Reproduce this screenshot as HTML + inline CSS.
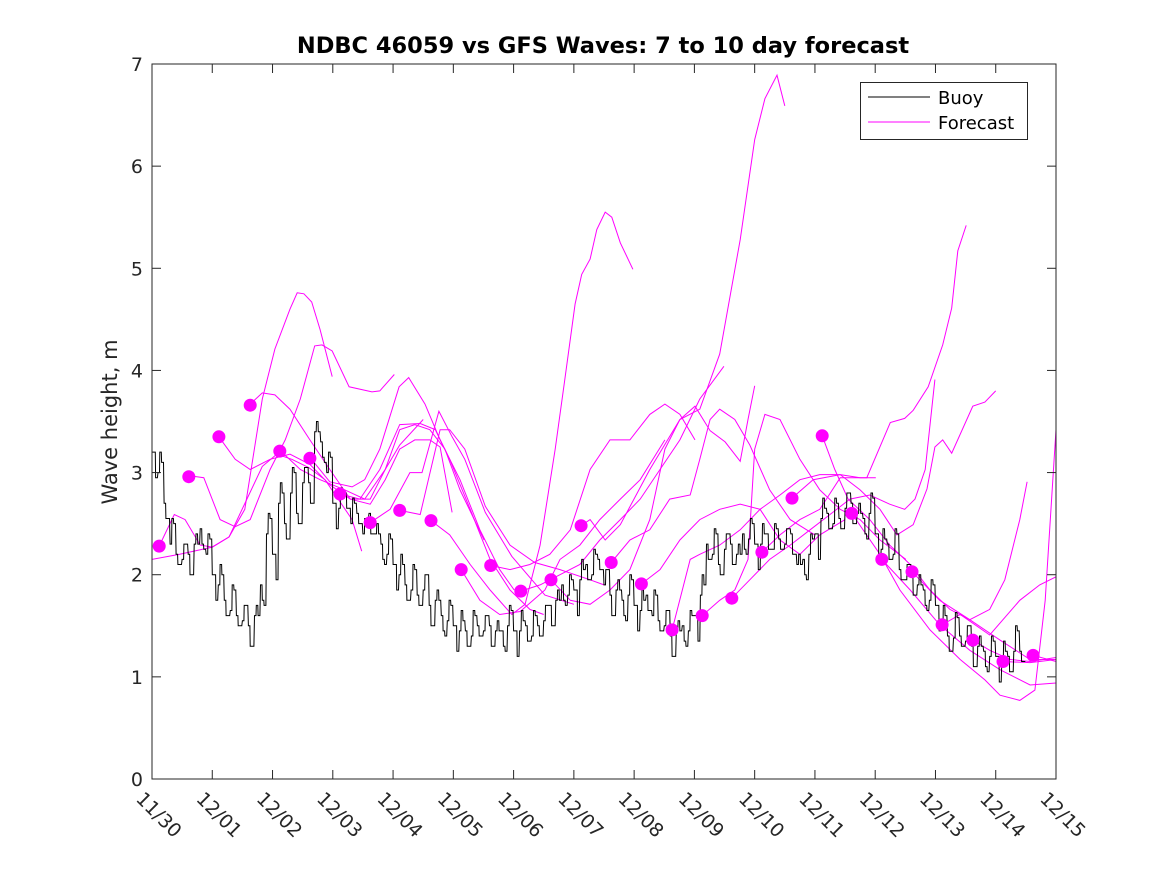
<!DOCTYPE html>
<html><head><meta charset="utf-8"><style>
html,body{margin:0;padding:0;background:#fff;}
svg{display:block;font-family:"DejaVu Sans","Liberation Sans",sans-serif;}
</style></head><body>
<svg id="chart" width="1167" height="875" viewBox="0 0 1167 875">
<defs><clipPath id="plotclip"><rect x="152" y="64" width="904" height="715"/></clipPath></defs>
<rect x="0" y="0" width="1167" height="875" fill="#fff"/>
<text x="603" y="53" text-anchor="middle" font-size="22.5" font-weight="bold" fill="#000">NDBC 46059 vs GFS Waves: 7 to 10 day forecast</text>
<text transform="translate(117,422) rotate(-90)" text-anchor="middle" font-size="21" fill="#262626">Wave height, m</text>
<g id="series" clip-path="url(#plotclip)"></g>
<g id="axes"></g>
<g>
<rect x="860.5" y="82.5" width="167" height="57" fill="#fff" stroke="#262626" stroke-width="1"/>
<line x1="868" y1="97" x2="930" y2="97" stroke="#000" stroke-width="1"/>
<text x="938" y="104" font-size="18" fill="#000">Buoy</text>
<line x1="868" y1="122" x2="930" y2="122" stroke="#ff00ff" stroke-width="1"/>
<text x="938" y="129" font-size="18" fill="#000">Forecast</text>
</g>
</svg>
<script>
const xTickLabels = ["11/30","12/01","12/02","12/03","12/04","12/05","12/06","12/07","12/08","12/09","12/10","12/11","12/12","12/13","12/14","12/15"];
const yTickValues = [0,1,2,3,4,5,6,7];
const buoyStartDay = 0;
const buoyStep = 0.1;
const buoyHeights = [3.2,3.0,2.7,2.3,2.2,2.15,2.2,2.3,2.45,2.2,2.0,1.9,1.75,1.65,1.6,1.55,1.5,1.6,1.9,2.4,2.2,2.7,2.5,2.8,2.6,2.9,2.9,3.4,3.3,3.0,2.7,2.65,2.8,2.5,2.6,2.4,2.6,2.4,2.3,2.2,2.1,2.0,1.9,1.85,1.8,1.85,1.7,1.75,1.6,1.55,1.5,1.45,1.45,1.4,1.5,1.45,1.5,1.45,1.45,1.5,1.45,1.45,1.5,1.4,1.5,1.55,1.7,1.75,1.9,1.8,1.85,1.95,2.1,2.0,2.15,1.9,1.8,1.85,1.75,1.8,1.7,1.65,1.8,1.6,1.55,1.5,1.4,1.45,1.5,1.45,1.6,1.8,2.3,2.2,2.1,2.25,2.3,2.2,2.4,2.35,2.3,2.3,2.4,2.25,2.35,2.3,2.4,2.1,2.15,2.2,2.4,2.55,2.6,2.5,2.55,2.65,2.7,2.6,2.55,2.6,2.4,2.25,2.3,2.2,2.05,1.95,2.0,1.9,1.85,1.75,1.7,1.5,1.4,1.38,1.4,1.35,1.3,1.3,1.25,1.2,1.2,1.15,1.2,1.25,1.25];
const buoyNoise = [0,0.2,-0.15,0.25,-0.1,0.15,-0.2,0.1,-0.15,0.2];
const forecastRuns = [
[[0,2.15],[0.46,2.20],[1.0,2.27],[1.28,2.37],[1.54,2.64],[1.83,3.72],[2.04,4.21],[2.29,4.60],[2.41,4.76],[2.52,4.75],[2.65,4.67],[2.79,4.40],[2.99,3.94]],
[[0.12,2.28],[0.37,2.59],[0.55,2.54],[0.80,2.29],[1.0,2.27],[1.28,2.37],[1.83,3.06],[2.07,3.18],[2.32,3.13],[2.60,3.05],[2.87,2.93],[3.32,2.54],[3.48,2.23]],
[[0.61,2.97],[0.86,2.95],[1.13,2.54],[1.38,2.47],[1.63,2.54],[1.96,3.03],[2.21,3.32],[2.46,3.72],[2.70,4.24],[2.82,4.25],[2.99,4.19],[3.27,3.84],[3.65,3.79],[3.78,3.80],[4.02,3.96]],
[[1.11,3.35],[1.38,3.13],[1.63,3.03],[1.96,3.13],[2.29,3.18],[2.62,3.08],[2.95,2.88],[3.29,2.74],[3.62,2.74],[3.87,3.03],[4.11,3.27],[4.50,3.52]],
[[1.63,3.67],[1.83,3.78],[2.04,3.76],[2.29,3.62],[2.62,3.32],[2.95,3.03],[3.29,2.74],[3.62,2.69],[3.87,2.93],[4.11,3.23],[4.36,3.32],[4.61,3.32],[4.78,3.25],[4.98,2.61]],
[[2.12,3.22],[2.46,3.03],[2.79,2.93],[3.20,2.83],[3.53,2.74],[3.87,3.03],[4.11,3.42],[4.36,3.47],[4.61,3.42],[4.86,3.23],[5.11,2.83],[5.51,2.34]],
[[2.62,3.15],[2.95,2.91],[3.32,2.86],[3.53,2.93],[3.78,3.23],[4.10,3.84],[4.26,3.93],[4.53,3.67],[4.78,3.32],[5.11,2.93],[5.44,2.44],[5.77,2.05],[6.01,1.85]],
[[3.12,2.79],[3.45,2.74],[3.78,3.03],[4.11,3.47],[4.45,3.48],[4.70,3.42],[4.94,3.13],[5.28,2.64],[5.61,2.15],[5.94,1.85],[6.27,1.66],[6.50,1.61]],
[[3.62,2.51],[3.95,2.64],[4.28,3.0],[4.48,3.0],[4.76,3.60],[4.98,3.35],[5.19,3.13],[5.53,2.61],[5.97,2.18],[6.52,1.80],[7.0,1.71]],
[[4.11,2.63],[4.45,2.59],[4.78,3.42],[4.94,3.42],[5.19,3.23],[5.53,2.67],[5.94,2.29],[6.35,2.12],[6.77,2.05],[7.27,1.95],[7.50,1.90]],
[[4.63,2.53],[4.94,2.39],[5.28,2.10],[5.61,1.85],[5.97,1.61],[6.19,1.71],[6.44,2.29],[6.69,3.23],[6.85,3.91],[7.02,4.65],[7.13,4.94],[7.27,5.09],[7.38,5.38],[7.52,5.55],[7.63,5.50],[7.77,5.25],[7.98,4.99]],
[[5.13,2.05],[5.44,1.75],[5.77,1.61],[6.11,1.64],[6.52,1.85],[6.77,2.15],[7.10,2.29],[7.43,2.54],[7.77,2.74],[8.10,2.93],[8.51,3.32]],
[[5.62,2.09],[5.94,2.05],[6.27,2.10],[6.60,2.20],[6.94,2.44],[7.27,3.03],[7.60,3.32],[7.93,3.32],[8.26,3.57],[8.51,3.67],[8.76,3.57],[9.01,3.32]],
[[6.12,1.84],[6.44,1.90],[6.77,2.0],[7.10,2.10],[7.43,2.34],[7.77,2.54],[8.10,2.74],[8.43,3.03],[8.76,3.32],[9.09,3.72],[9.49,4.04]],
[[6.62,1.95],[6.94,1.75],[7.27,1.71],[7.60,1.85],[7.93,2.05],[8.26,2.54],[8.51,3.23],[8.76,3.52],[9.01,3.65],[9.26,3.41],[9.51,3.30],[9.76,3.11],[9.89,3.52],[10.0,3.85]],
[[7.12,2.48],[7.27,2.54],[7.52,2.34],[7.77,2.49],[8.26,3.03],[8.76,3.52],[9.09,3.62],[9.42,4.16],[9.76,5.28],[10.0,6.26],[10.17,6.66],[10.37,6.89],[10.50,6.59]],
[[7.62,2.12],[7.93,2.34],[8.26,2.44],[8.59,2.74],[8.93,2.78],[9.09,3.13],[9.26,3.52],[9.42,3.62],[9.67,3.52],[9.92,3.27],[10.25,2.83],[10.59,2.54],[11.0,2.39]],
[[8.12,1.91],[8.43,2.05],[8.76,2.34],[9.09,2.54],[9.42,2.64],[9.76,2.69],[10.09,2.64],[10.42,2.34],[10.75,2.20],[11.08,2.39],[11.50,2.54]],
[[8.63,1.46],[8.93,2.15],[9.09,2.20],[9.42,2.29],[9.76,2.44],[10.09,2.64],[10.42,2.78],[10.75,2.93],[11.08,2.98],[11.42,2.98],[11.75,2.95],[12.01,2.95]],
[[9.13,1.60],[9.42,1.75],[9.67,1.85],[9.89,2.15],[10.0,3.23],[10.17,3.57],[10.42,3.52],[10.75,3.13],[11.08,2.83],[11.42,2.64],[11.75,2.54],[12.08,2.34],[12.51,2.15]],
[[9.62,1.77],[9.92,1.95],[10.25,2.15],[10.59,2.29],[10.92,2.44],[11.25,2.59],[11.58,2.74],[11.91,2.78],[12.24,2.69],[12.49,2.64],[12.66,2.74],[12.83,3.03],[12.99,3.91]],
[[10.12,2.22],[10.42,2.39],[10.75,2.54],[11.08,2.64],[11.42,2.95],[11.70,2.95],[11.86,2.95],[12.25,3.49],[12.49,3.53],[12.63,3.61],[12.88,3.84],[13.12,4.25],[13.27,4.61],[13.37,5.17],[13.51,5.42]],
[[10.62,2.75],[10.97,2.93],[11.42,2.98],[11.75,2.83],[12.08,2.64],[12.36,2.39],[12.63,2.49],[12.86,2.84],[12.99,3.25],[13.12,3.32],[13.27,3.19],[13.62,3.65],[13.82,3.69],[14.0,3.80]],
[[11.12,3.36],[11.33,3.03],[11.55,2.74],[11.91,2.54],[12.24,2.29],[12.58,2.10],[12.91,1.85],[13.24,1.66],[13.57,1.56],[13.90,1.66],[14.15,1.95],[14.40,2.54],[14.52,2.91]],
[[11.61,2.60],[12.08,2.20],[12.41,1.85],[12.91,1.46],[13.41,1.17],[13.82,0.97],[14.07,0.82],[14.40,0.77],[14.65,0.87],[14.82,1.75],[15.0,3.42]],
[[12.11,2.15],[12.58,1.85],[13.07,1.51],[13.57,1.26],[14.07,1.07],[14.57,0.92],[15.0,0.94]],
[[12.61,2.03],[13.07,1.75],[13.57,1.56],[14.07,1.36],[14.57,1.17],[15.0,1.17]],
[[13.11,1.51],[13.41,1.61],[13.90,1.41],[14.40,1.75],[14.73,1.90],[15.0,1.98]],
[[13.62,1.36],[13.90,1.26],[14.24,1.17],[14.57,1.15],[15.0,1.19]],
[[14.12,1.15],[14.57,1.14],[15.0,1.17]],
[[14.62,1.21],[15.0,1.15]]
];
const dotDays = [0.12,0.61,1.11,1.63,2.12,2.62,3.12,3.62,4.11,4.63,5.13,5.62,6.12,6.62,7.12,7.62,8.12,8.63,9.13,9.62,10.12,10.62,11.12,11.61,12.11,12.61,13.11,13.62,14.12,14.62];
const dotHeights = [2.28,2.96,3.35,3.66,3.21,3.14,2.79,2.51,2.63,2.53,2.05,2.09,1.84,1.95,2.48,2.12,1.91,1.46,1.60,1.77,2.22,2.75,3.36,2.60,2.15,2.03,1.51,1.36,1.15,1.21];

const X0=152, X1=1056, Y0=779, Y1=64, XMAX=15, YMAX=7;
function xs(d){return X0+(X1-X0)*d/XMAX;}
function ys(v){return Y0-(Y0-Y1)*v/YMAX;}
const NS="http://www.w3.org/2000/svg";
function mk(tag,attrs,parent){const e=document.createElementNS(NS,tag);for(const k in attrs)e.setAttribute(k,attrs[k]);parent.appendChild(e);return e;}
const series=document.getElementById('series');
const axes=document.getElementById('axes');

forecastRuns.forEach((run,i)=>{
  const p=mk('polyline',{points:run.map(q=>xs(q[0]).toFixed(1)+','+ys(q[1]).toFixed(1)).join(' '),fill:'none',stroke:'#ff00ff','stroke-width':1},series);
  
  
});
let bpts=[];
buoyHeights.forEach((v,i)=>{
  const d=buoyStartDay+i*buoyStep;
  bpts.push(xs(d).toFixed(1)+','+ys(v).toFixed(1));
  const v2=v+buoyNoise[i%buoyNoise.length];
  bpts.push(xs(d+buoyStep*0.25).toFixed(1)+','+ys(v).toFixed(1));
  bpts.push(xs(d+buoyStep*0.3).toFixed(1)+','+ys(v2).toFixed(1));
  bpts.push(xs(d+buoyStep*0.55).toFixed(1)+','+ys(v2).toFixed(1));
  const v3=v-buoyNoise[(i+3)%buoyNoise.length];
  bpts.push(xs(d+buoyStep*0.6).toFixed(1)+','+ys(v3).toFixed(1));
  bpts.push(xs(d+buoyStep*0.9).toFixed(1)+','+ys(v3).toFixed(1));
});
const bl=mk('polyline',{points:bpts.join(' '),fill:'none',stroke:'#000','stroke-width':1},series);


dotDays.forEach((d,i)=>{
  const c=mk('circle',{cx:xs(d).toFixed(1),cy:ys(dotHeights[i]).toFixed(1),r:6.5,fill:'#ff00ff'},series);
  
  
});
const fr=mk('rect',{x:X0,y:Y1,width:X1-X0,height:Y0-Y1,fill:'none',stroke:'#262626','stroke-width':1},axes);


xTickLabels.forEach((lab,i)=>{
  const x=xs(i);
  const t1=mk('line',{x1:x,y1:Y0,x2:x,y2:Y0-9,stroke:'#262626'},axes);
  
  
  const t2=mk('line',{x1:x,y1:Y1,x2:x,y2:Y1+9,stroke:'#262626'},axes);
  
  
  const bx=x-17, by=800;
  const t=mk('text',{x:bx,y:by,'font-size':19,fill:'#262626',transform:'rotate(45 '+bx+' '+by+')'},axes);
  t.textContent=lab;
  
  
});
yTickValues.forEach(v=>{
  const y=ys(v);
  const t1=mk('line',{x1:X0,y1:y,x2:X0+9,y2:y,stroke:'#262626'},axes);
  
  
  const t2=mk('line',{x1:X1,y1:y,x2:X1-9,y2:y,stroke:'#262626'},axes);
  
  
  const t=mk('text',{x:143,y:y+7,'font-size':19,fill:'#262626','text-anchor':'end'},axes);
  t.textContent=String(v);
  
  
});
</script>
</body></html>
